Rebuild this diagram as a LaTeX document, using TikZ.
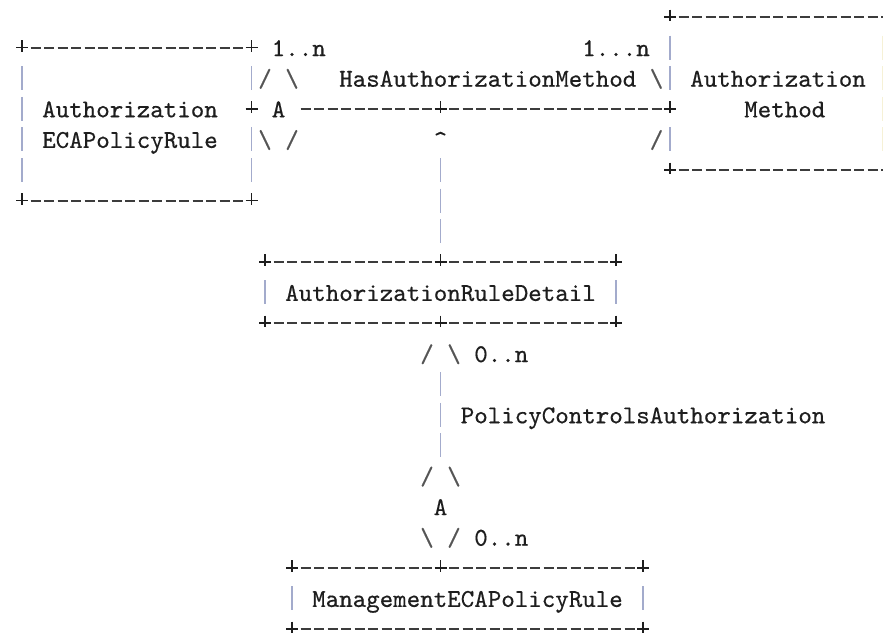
\documentclass[tikz,border=0pt]{standalone}
\usepackage{fontspec}
\newfontfamily\asciifont[FakeBold=0.4]{lmmono10-regular.otf}
\usepackage{xcolor}
\definecolor{ink}{HTML}{1E1E1E}
\definecolor{dashc}{HTML}{3C3C3C}
\definecolor{barc}{HTML}{A3ABCC}
\definecolor{edgec}{HTML}{F6F1D6}
\definecolor{slc}{HTML}{555555}
\tikzset{
  dashln/.style={draw=dashc, line width=0.9pt, dash pattern=on 5pt off 1.75pt},
  plusln/.style={draw=ink, line width=0.8pt},
  barln/.style={draw=barc, line width=0.9pt},
  asc/.style={inner sep=0pt, outer sep=0pt, anchor=base west, text=ink,
              font=\fontsize{12.86}{15}\selectfont\asciifont},
  slc/.style={asc, text=slc}
}
% dashed run over cells #2..#3 of row #1
\newcommand\arun[3]{\path[dashln] ({3.5+13.5*(#2)},{17+30.6*(#1)}) -- ({13.5+13.5*(#3)},{17+30.6*(#1)});}
% plus sign at col #1 row #2
\newcommand\aplus[2]{\path[plusln] ({8.5+13.5*(#1)},{17+30.6*(#2)-7.5}) -- ({8.5+13.5*(#1)},{17+30.6*(#2)+4})
  ({8.5+13.5*(#1)-6},{17+30.6*(#2)}) -- ({8.5+13.5*(#1)+6},{17+30.6*(#2)});}
% vertical bar at col #1 row #2
\newcommand\abar[2]{\path[barln] ({8.5+13.5*(#1)},{17+30.6*(#2)-12}) -- ({8.5+13.5*(#1)},{17+30.6*(#2)+12});}
% text: [style] name col row text
\newcommand\atext[5][asc]{\node[#1] (#2) at ({1.75+13.5*(#3)},{17+30.6*(#4)+8.5}) {#5};}
\begin{document}
\begin{tikzpicture}[x=0.5pt, y=-0.5pt]
\fill[white] (0,0) rectangle (883,633);
\useasboundingbox (0,0) rectangle (883,633);
% ---- dashed runs and plus signs
\arun{0}{50}{67} \aplus{49}{0}
\arun{1}{2}{17} \aplus{1}{1} \aplus{18}{1}
\arun{3}{22}{31} \arun{3}{33}{48} \aplus{18}{3} \aplus{32}{3} \aplus{49}{3}
\arun{5}{50}{67} \aplus{49}{5}
\arun{6}{2}{17} \aplus{1}{6} \aplus{18}{6}
\arun{8}{20}{31} \arun{8}{33}{44} \aplus{19}{8} \aplus{32}{8} \aplus{45}{8}
\arun{10}{20}{31} \arun{10}{33}{44} \aplus{19}{10} \aplus{32}{10} \aplus{45}{10}
\arun{18}{22}{31} \arun{18}{33}{46} \aplus{21}{18} \aplus{32}{18} \aplus{47}{18}
\arun{20}{22}{46} \aplus{21}{20} \aplus{47}{20}
% ---- vertical bars
\abar{1}{2} \abar{1}{3} \abar{1}{4} \abar{1}{5}
\abar{18}{2} \abar{18}{4} \abar{18}{5}
\abar{49}{1} \abar{49}{2} \abar{49}{4}
\foreach \r in {1,2,3,4}{\path[barln, draw=edgec] (882.5,{17+30.6*\r-12}) -- (882.5,{17+30.6*\r+12});}
\abar{32}{5} \abar{32}{6} \abar{32}{7}
\abar{19}{9} \abar{45}{9}
\abar{32}{12} \abar{32}{13} \abar{32}{14}
\abar{21}{19} \abar{47}{19}
% ---- texts
\atext{m1}{20}{1}{1..n}
\atext{m2}{43}{1}{1...n}
\atext[slc]{s1}{19}{2}{/}
\atext[slc]{s2}{21}{2}{\textbackslash}
\atext{hasam}{25}{2}{HasAuthorizationMethod}
\atext[slc]{s3}{48}{2}{\textbackslash}
\atext{am1}{51}{2}{Authorization}
\atext{aecap1}{3}{3}{Authorization}
\atext{agg1}{20}{3}{A}
\atext{am2}{55}{3}{Method}
\atext{aecap2}{3}{4}{ECAPolicyRule}
\atext[slc]{s4}{19}{4}{\textbackslash}
\atext[slc]{s5}{21}{4}{/}
\atext{caret}{32}{4}{\textasciicircum}
\atext[slc]{s6}{48}{4}{/}
\atext{ard}{21}{9}{AuthorizationRuleDetail}
\atext[slc]{s7}{31}{11}{/}
\atext[slc]{s8}{33}{11}{\textbackslash}
\atext{m3}{35}{11}{0..n}
\atext{pca}{34}{13}{PolicyControlsAuthorization}
\atext[slc]{s9}{31}{15}{/}
\atext[slc]{s10}{33}{15}{\textbackslash}
\atext{agg2}{32}{16}{A}
\atext[slc]{s11}{31}{17}{\textbackslash}
\atext[slc]{s12}{33}{17}{/}
\atext{m4}{35}{17}{0..n}
\atext{mecap}{23}{19}{ManagementECAPolicyRule}
\end{tikzpicture}
\end{document}
